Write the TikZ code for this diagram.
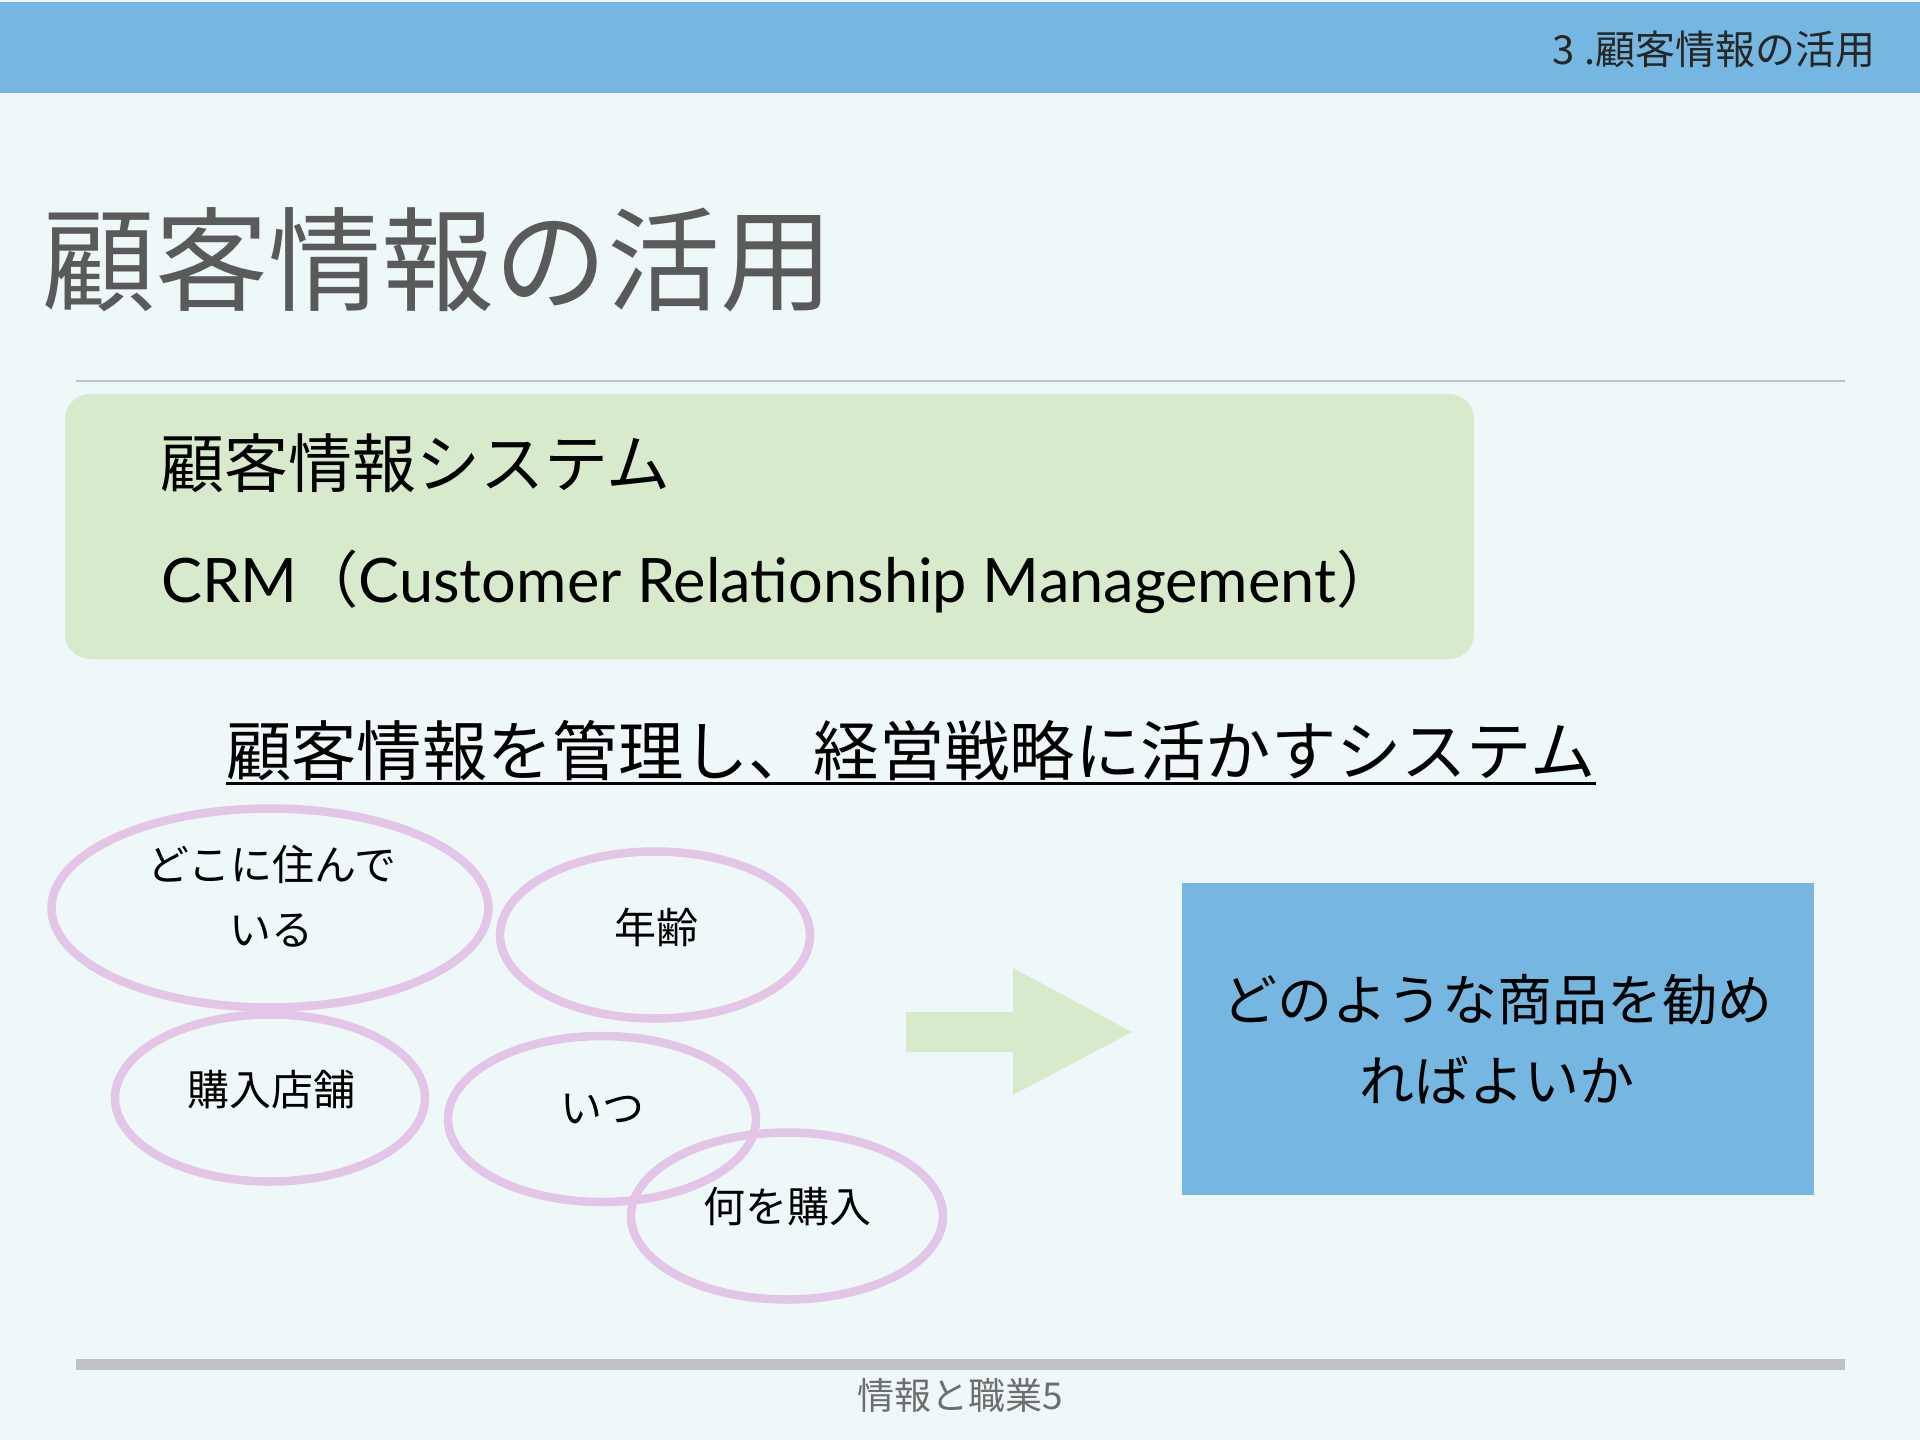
\documentclass[tikz,border=0pt]{standalone}
\usepackage{fontspec}
\usetikzlibrary{shapes.geometric}
\newfontfamily\cjk{Noto Sans CJK JP}
\newfontfamily\lat{Lato}
\definecolor{bgc}{RGB}{238,248,249}
\definecolor{hdrc}{RGB}{117,183,225}
\definecolor{greenc}{RGB}{216,234,204}
\definecolor{ellc}{RGB}{227,197,232}
\definecolor{rulec}{RGB}{191,195,197}
\definecolor{titlec}{RGB}{90,90,90}
\definecolor{footc}{RGB}{110,110,110}
\tikzset{
  fs/.style={font=\cjk\fontsize{#1}{#1}\selectfont},
  oval/.style={ellipse, draw=ellc, line width=8.5, inner sep=0pt},
  txt/.style={inner sep=0pt}
}
\begin{document}
\begin{tikzpicture}[x=1pt,y=-1pt]
\fill[bgc] (0,0) rectangle (1920,1440);
\useasboundingbox (0,0) rectangle (1920,1440);
% header
\fill[hdrc] (0,2) rectangle (1920,93);
\node[txt, fs=40, anchor=east, text=black!85] (hdr) at (1876,49) {3\hspace{10pt}.顧客情報の活用};
% title
\node[txt, fs=113, anchor=west, text=titlec] (title) at (42,260) {顧客情報の活用};
\draw[rulec, line width=2] (76,381) -- (1845,381);
% green box
\node[fill=greenc, rounded corners=25, minimum width=1409, minimum height=265, inner sep=0pt] (gbox) at (769.5,526.5) {};
\node[txt, fs=64, anchor=west] (sys) at (160,463) {顧客情報システム};
\node[txt, anchor=base west, font=\lat\fontsize{61.3}{62}\selectfont] (crm) at (161,602) {CRM{\cjk（}Customer Relationship Management{\cjk）}};
% underlined statement
\node[txt, fs=65.3, anchor=west] (stmt) at (226,751) {顧客情報を管理し、経営戦略に活かすシステム};
\draw[line width=2.5] ([yshift=-2]stmt.south west) -- ([yshift=-2]stmt.south east);
% ellipses
\node[oval, minimum width=437, minimum height=199] (e1) at (270,908) {};
\node[oval, minimum width=310, minimum height=167] (e2) at (655,935) {};
\node[oval, minimum width=310, minimum height=167] (e3) at (270,1098) {};
\node[oval, minimum width=308, minimum height=166] (e4) at (602,1119) {};
\node[oval, minimum width=312, minimum height=167] (e5) at (787,1216) {};
\node[txt, fs=42] (t1a) at (272,864) {どこに住んで};
\node[txt, fs=42] (t1b) at (271,931) {いる};
\node[txt, fs=42] (t2) at (656,927) {年齢};
\node[txt, fs=42] (t3) at (271,1090) {購入店舗};
\node[txt, fs=42] (t4) at (602,1109) {いつ};
\node[txt, fs=42] (t5) at (787,1207) {何を購入};
% block arrow
\fill[greenc] (906,1012) -- (1013,1012) -- (1013,968) -- (1132,1032) -- (1013,1095) -- (1013,1052) -- (906,1052) -- cycle;
% result box
\node[fill=hdrc, minimum width=632, minimum height=312, inner sep=0pt] (res) at (1498,1039) {};
\node[txt, align=center, font=\cjk\fontsize{55}{81}\selectfont] (rest) at (1497,1039) {どのような商品を勧め\\ればよいか};
% footer
\fill[rulec] (76,1359) rectangle (1845,1370);
\node[txt, fs=37, text=footc] (foot) at (960,1395) {情報と職業5};
\end{tikzpicture}
\end{document}
